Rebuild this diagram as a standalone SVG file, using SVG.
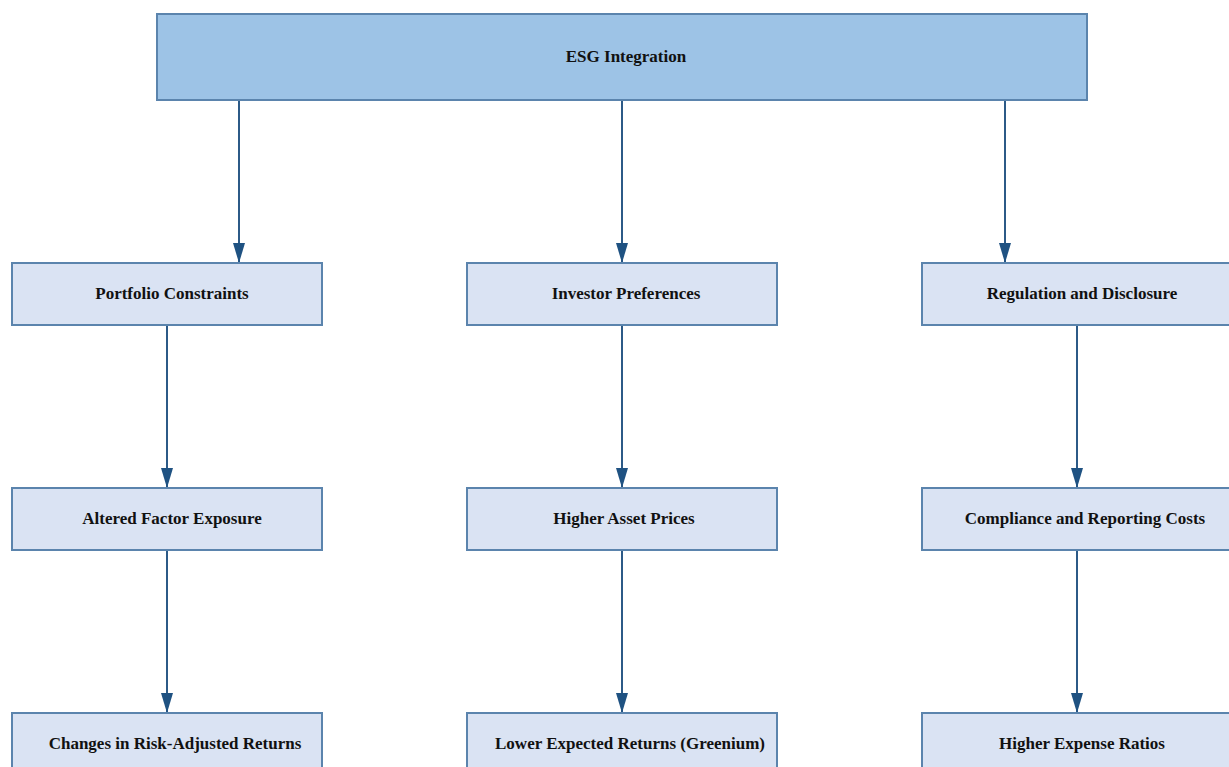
<svg xmlns="http://www.w3.org/2000/svg" width="1229" height="767" viewBox="0 0 1229 767">
<style>
.top{fill:#9dc3e6;stroke:#5b84ad;stroke-width:2}
.box{fill:#dae3f3;stroke:#5b84ad;stroke-width:2}
.lbl{font-family:"Liberation Serif","Times New Roman",serif;font-weight:bold;font-size:17px;fill:#111;text-anchor:middle;dominant-baseline:central}
.edge{stroke:#2c5a87;stroke-width:2;fill:none;marker-end:url(#ah)}
</style>
<defs>
<marker id="ah" markerWidth="20" markerHeight="12" refX="20" refY="6" orient="auto" markerUnits="userSpaceOnUse" viewBox="0 0 20 12">
<path d="M0,0 L20,6 L0,12 Z" fill="#1f5282"/>
</marker>
</defs>
<rect width="1229" height="767" fill="#fff"/>
<g id="connectors">
<line class="edge" x1="239" y1="100" x2="239" y2="263"/>
<line class="edge" x1="622" y1="100" x2="622" y2="263"/>
<line class="edge" x1="1005" y1="100" x2="1005" y2="263"/>
<line class="edge" x1="167" y1="325" x2="167" y2="488"/>
<line class="edge" x1="622" y1="325" x2="622" y2="488"/>
<line class="edge" x1="1077" y1="325" x2="1077" y2="488"/>
<line class="edge" x1="167" y1="550" x2="167" y2="713"/>
<line class="edge" x1="622" y1="550" x2="622" y2="713"/>
<line class="edge" x1="1077" y1="550" x2="1077" y2="713"/>
</g>
<g id="esg"><rect class="top" x="157" y="14" width="930" height="86"/><text class="lbl" x="626" y="56">ESG Integration</text></g>
<g id="portfolio"><rect class="box" x="12" y="263" width="310" height="62"/><text class="lbl" x="172" y="293">Portfolio Constraints</text></g>
<g id="investor"><rect class="box" x="467" y="263" width="310" height="62"/><text class="lbl" x="626" y="293">Investor Preferences</text></g>
<g id="regulation"><rect class="box" x="922" y="263" width="310" height="62"/><text class="lbl" x="1082" y="293">Regulation and Disclosure</text></g>
<g id="factor"><rect class="box" x="12" y="488" width="310" height="62"/><text class="lbl" x="172" y="518">Altered Factor Exposure</text></g>
<g id="prices"><rect class="box" x="467" y="488" width="310" height="62"/><text class="lbl" x="624" y="518">Higher Asset Prices</text></g>
<g id="compliance"><rect class="box" x="922" y="488" width="310" height="62"/><text class="lbl" x="1085" y="518">Compliance and Reporting Costs</text></g>
<g id="riskadj"><rect class="box" x="12" y="713" width="310" height="62"/><text class="lbl" x="175" y="743">Changes in Risk-Adjusted Returns</text></g>
<g id="greenium"><rect class="box" x="467" y="713" width="310" height="62"/><text class="lbl" x="630" y="743">Lower Expected Returns (Greenium)</text></g>
<g id="expense"><rect class="box" x="922" y="713" width="310" height="62"/><text class="lbl" x="1082" y="743">Higher Expense Ratios</text></g>
</svg>
